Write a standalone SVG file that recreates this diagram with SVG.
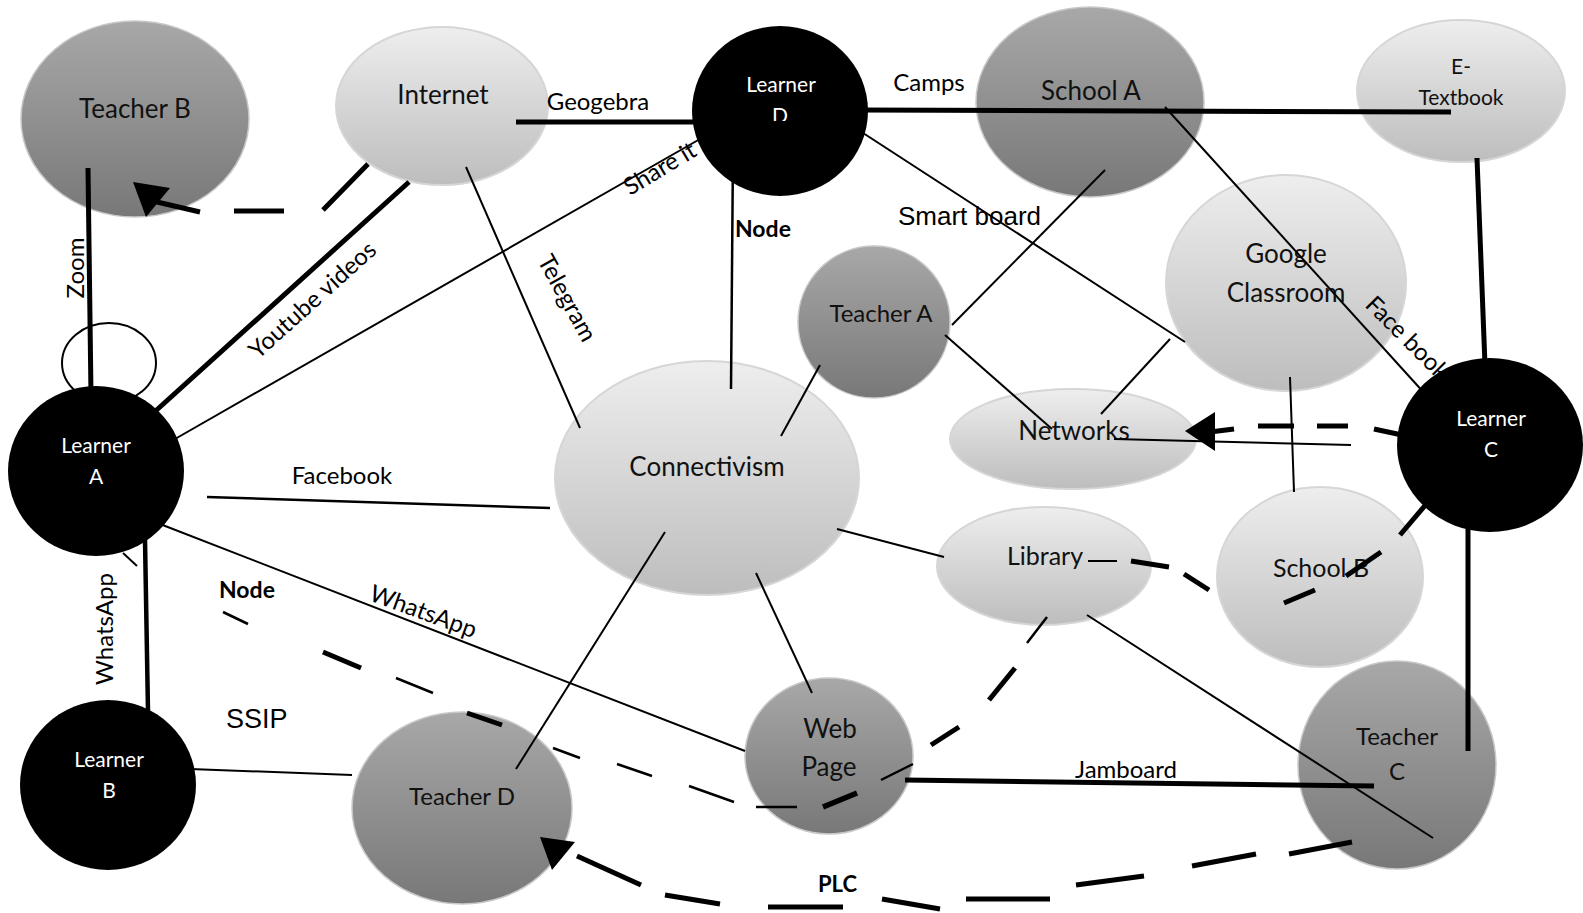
<svg xmlns="http://www.w3.org/2000/svg" width="1583" height="913" viewBox="0 0 1583 913">
<defs>
<linearGradient id="gDark" x1="0" y1="0" x2="0" y2="1">
<stop offset="0" stop-color="#a8a8a8"/>
<stop offset="1" stop-color="#787878"/>
</linearGradient>
<linearGradient id="gLight" x1="0" y1="0" x2="0" y2="1">
<stop offset="0" stop-color="#eeeeee"/>
<stop offset="1" stop-color="#bdbdbd"/>
</linearGradient>
<clipPath id="clipD"><rect x="700" y="95" width="160" height="26"/></clipPath>
</defs>
<style>
.dark{fill:url(#gDark);stroke:#c8c8c8;stroke-width:1.5}
.light{fill:url(#gLight);stroke:#d6d6d6;stroke-width:2}
.blk{fill:#000}
.t{font-family:Lato,"Open Sans",sans-serif;fill:#111;text-anchor:middle}
.tw{font-family:Lato,"Open Sans",sans-serif;fill:#fff;text-anchor:middle;font-size:21px}
.lb{font-family:Lato,"Open Sans",sans-serif;fill:#000;font-size:24px}
.ar{font-family:"Liberation Sans",Arial,sans-serif;fill:#000}
.bd{font-family:Lato,"Open Sans",sans-serif;font-weight:bold;fill:#000}
.c line{stroke:#000;stroke-linecap:butt}
.thin{stroke-width:2}
.thk{stroke-width:5}
</style>
<rect width="1583" height="913" fill="#fff"/>

<g id="teacherB"><ellipse class="dark" cx="135" cy="119" rx="114" ry="98"/><text class="t" x="135" y="118" font-size="26">Teacher B</text></g>
<g id="internet"><ellipse class="light" cx="442" cy="106" rx="106" ry="79"/><text class="t" x="443" y="104" font-size="26">Internet</text></g>
<g id="schoolA"><ellipse class="dark" cx="1090" cy="102" rx="114" ry="95"/><text class="t" x="1091" y="100" font-size="26">School A</text></g>
<g id="eTextbook"><ellipse class="light" cx="1461" cy="91" rx="104" ry="71"/><text class="t" x="1461" y="74" font-size="21">E-</text><text class="t" x="1461" y="105" font-size="21">Textbook</text></g>
<g id="googleClassroom"><ellipse class="light" cx="1286" cy="283" rx="120" ry="108"/><text class="t" x="1286" y="263" font-size="26">Google</text><text class="t" x="1286" y="302" font-size="26">Classroom</text></g>
<g id="teacherA"><ellipse class="dark" cx="874" cy="322" rx="76" ry="76"/><text class="t" x="881" y="322" font-size="24">Teacher A</text></g>
<g id="connectivism"><ellipse class="light" cx="707" cy="478" rx="152" ry="117"/><text class="t" x="707" y="476" font-size="26">Connectivism</text></g>
<g id="networks"><ellipse class="light" cx="1073" cy="439" rx="123" ry="50"/><text class="t" x="1074" y="440" font-size="26">Networks</text></g>
<g id="library"><ellipse class="light" cx="1044" cy="566" rx="107" ry="59"/><text class="t" x="1045" y="565" font-size="25">Library</text></g>
<g id="schoolB"><ellipse class="light" cx="1320" cy="577" rx="103" ry="90"/><text class="t" x="1321" y="577" font-size="25">School B</text></g>
<g id="teacherD"><ellipse class="dark" cx="462" cy="808" rx="110" ry="96"/><text class="t" x="462" y="805" font-size="24">Teacher D</text></g>
<g id="webPage"><ellipse class="dark" cx="829" cy="756" rx="84" ry="78"/><text class="t" x="830" y="738" font-size="26">Web</text><text class="t" x="829" y="776" font-size="26">Page</text></g>
<g id="teacherC"><ellipse class="dark" cx="1397" cy="765" rx="99" ry="104"/><text class="t" x="1397" y="745" font-size="24">Teacher</text><text class="t" x="1397" y="780" font-size="24">C</text></g>
<g id="loop"><ellipse cx="109" cy="363" rx="47" ry="40" fill="none" stroke="#000" stroke-width="2"/></g>

<g id="connectors" class="c">
<line class="thk" x1="88" y1="168" x2="91" y2="395" stroke-width="4.5"/>
<line class="thk" x1="368" y1="164" x2="323" y2="210"/>
<line class="thk" x1="234" y1="211" x2="284" y2="211"/>
<line class="thk" x1="200" y1="212" x2="157" y2="202"/>
<polygon points="133,182 170,188 146,217" fill="#000"/>
<line class="thk" x1="409" y1="182" x2="150" y2="416" stroke-width="5.5"/>
<line class="thin" x1="175" y1="439" x2="700" y2="139"/>
<line class="thk" x1="516" y1="122" x2="700" y2="122"/>
<line class="thin" x1="466" y1="167" x2="580" y2="428"/>
<line x1="733" y1="150" x2="731" y2="389" stroke-width="2.5"/>
<line class="thk" x1="860" y1="110" x2="1451" y2="112"/>
<line class="thin" x1="860" y1="131" x2="1185" y2="342"/>
<line class="thin" x1="1105" y1="170" x2="952" y2="325"/>
<line class="thin" x1="1165" y1="107" x2="1426" y2="395"/>
<line class="thk" x1="1477" y1="158" x2="1485" y2="365"/>
<line class="thin" x1="945" y1="335" x2="1052" y2="429"/>
<line class="thin" x1="1170" y1="339" x2="1101" y2="414"/>
<line class="thin" x1="820" y1="365" x2="781" y2="436"/>
<line class="thin" x1="1290" y1="377" x2="1294" y2="492"/>
<line class="thk" x1="1374" y1="429" x2="1402" y2="435"/>
<line class="thk" x1="1317" y1="426" x2="1348" y2="426"/>
<line class="thk" x1="1258" y1="426" x2="1294" y2="426"/>
<line class="thk" x1="1210" y1="432" x2="1234" y2="429"/>
<polygon points="1185,431 1215,412 1215,451" fill="#000"/>
<line class="thin" x1="1114" y1="439" x2="1351" y2="445"/>
<line class="thin" x1="1088" y1="561" x2="1117" y2="561"/>
<line class="thk" x1="1131" y1="561" x2="1169" y2="567"/>
<line class="thk" x1="1184" y1="574" x2="1209" y2="590"/>
<line class="thk" x1="1381" y1="552" x2="1346" y2="576"/>
<line class="thk" x1="1315" y1="590" x2="1284" y2="603"/>
<line class="thk" x1="1428" y1="502" x2="1400" y2="535"/>
<line class="thin" x1="837" y1="529" x2="944" y2="557"/>
<line x1="207" y1="497" x2="550" y2="508" stroke-width="2.5"/>
<line class="thin" x1="160" y1="524" x2="745" y2="751"/>
<line x1="145" y1="540" x2="148" y2="712" stroke-width="4.5"/>
<line class="thin" x1="123" y1="553" x2="137" y2="566"/>
<line x1="223" y1="612" x2="248" y2="624" stroke-width="2.5"/>
<line class="thk" x1="323" y1="652" x2="361" y2="668"/>
<line x1="396" y1="678" x2="433" y2="693" stroke-width="2.5"/>
<line class="thk" x1="467" y1="713" x2="502" y2="725"/>
<line x1="553" y1="748" x2="580" y2="758" stroke-width="2.5"/>
<line x1="617" y1="764" x2="652" y2="776" stroke-width="2.5"/>
<line x1="689" y1="786" x2="734" y2="802" stroke-width="2.5"/>
<line x1="756" y1="807" x2="797" y2="807" stroke-width="2.5"/>
<line x1="823" y1="807" x2="857" y2="793" stroke-width="5.5"/>
<line x1="881" y1="780" x2="913" y2="764" stroke-width="2.5"/>
<line class="thk" x1="931" y1="745" x2="959" y2="727"/>
<line class="thk" x1="989" y1="700" x2="1015" y2="668"/>
<line x1="1027" y1="643" x2="1047" y2="617" stroke-width="2.5"/>
<line class="thin" x1="665" y1="532" x2="516" y2="769"/>
<line class="thin" x1="756" y1="573" x2="812" y2="693"/>
<line class="thin" x1="190" y1="769" x2="352" y2="775"/>
<line class="thk" x1="905" y1="780" x2="1374" y2="786"/>
<line class="thin" x1="1087" y1="615" x2="1433" y2="838"/>
<line class="thk" x1="1468" y1="525" x2="1468" y2="751"/>
<line class="thk" x1="1352" y1="842" x2="1289" y2="854"/>
<line class="thk" x1="1256" y1="854" x2="1192" y2="866"/>
<line class="thk" x1="1144" y1="876" x2="1076" y2="885"/>
<line class="thk" x1="1050" y1="899" x2="966" y2="899"/>
<line class="thk" x1="940" y1="909" x2="882" y2="899"/>
<line class="thk" x1="843" y1="907" x2="768" y2="907"/>
<line class="thk" x1="720" y1="904" x2="665" y2="895"/>
<line class="thk" x1="641" y1="885" x2="577" y2="856"/>
<polygon points="540,837 575,842 552,870" fill="#000"/>
</g>

<g id="labels">
<text class="lb" text-anchor="middle" transform="translate(84,268) rotate(-90)">Zoom</text>
<text class="lb" text-anchor="middle" font-size="25" transform="translate(318,306) rotate(-42)">Youtube videos</text>
<text class="lb" transform="translate(630,196) rotate(-31)">Share it</text>
<text class="lb" x="598" y="110" text-anchor="middle">Geogebra</text>
<text class="lb" text-anchor="middle" transform="translate(560,302) rotate(61)">Telegram</text>
<text class="bd" x="735" y="237" font-size="23">Node</text>
<text class="lb" x="929" y="91" text-anchor="middle">Camps</text>
<text class="ar" x="898" y="225" font-size="26">Smart board</text>
<text class="lb" transform="translate(1364,306) rotate(45)">Face book</text>
<text class="lb" x="342" y="484" text-anchor="middle">Facebook</text>
<text class="lb" transform="translate(368,600) rotate(20)">WhatsApp</text>
<text class="lb" text-anchor="middle" transform="translate(113,629) rotate(-90)">WhatsApp</text>
<text class="bd" x="219" y="598" font-size="23">Node</text>
<text class="ar" x="226" y="728" font-size="27">SSIP</text>
<text class="lb" x="1126" y="778" text-anchor="middle">Jamboard</text>
<text class="bd" x="818" y="892" font-size="22">PLC</text>
</g>

<g id="learnerD"><ellipse class="blk" cx="780" cy="111" rx="88" ry="85"/><text class="tw" x="781" y="92">Learner</text><text class="tw" x="780" y="123" clip-path="url(#clipD)">D</text></g>
<g id="learnerC"><ellipse class="blk" cx="1490" cy="445" rx="93" ry="87"/><text class="tw" x="1491" y="426">Learner</text><text class="tw" x="1491" y="457">C</text></g>
<g id="learnerA"><ellipse class="blk" cx="96" cy="471" rx="88" ry="85"/><text class="tw" x="96" y="453">Learner</text><text class="tw" x="96" y="484">A</text></g>
<g id="learnerB"><ellipse class="blk" cx="108" cy="785" rx="88" ry="85"/><text class="tw" x="109" y="767">Learner</text><text class="tw" x="109" y="798">B</text></g>
</svg>
